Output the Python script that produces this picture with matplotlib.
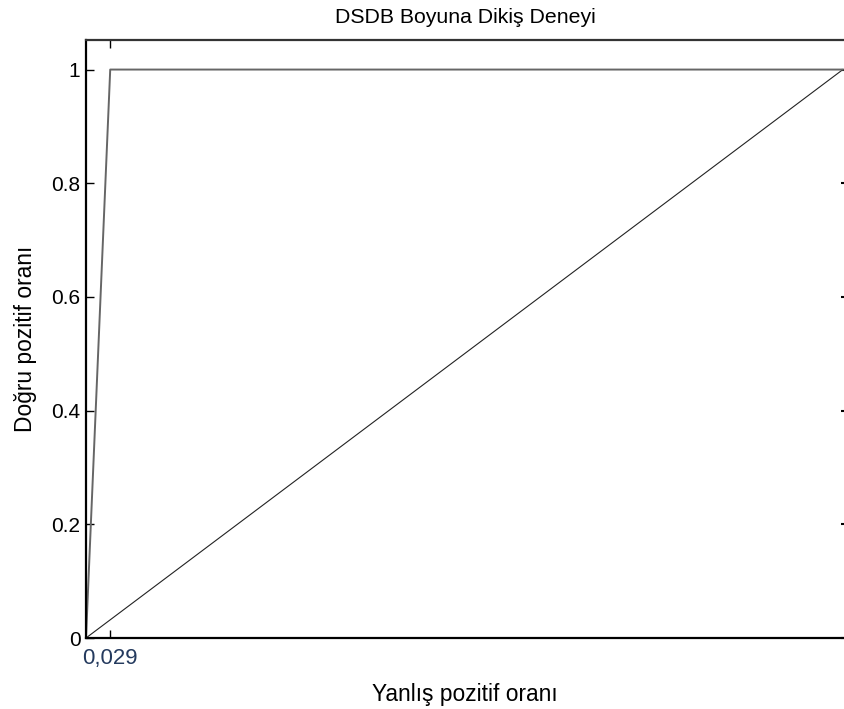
import matplotlib
matplotlib.use("Agg")
import matplotlib.pyplot as plt

# Data
fpr = [0.0, 0.032, 1.0]
tpr = [0.0, 1.0, 1.0]
diag_x = [0.0, 1.0]
diag_y = [0.0, 1.0]
yticks = [0, 0.2, 0.4, 0.6, 0.8, 1.0]
ytick_labels = ["0", "0.2", "0.4", "0.6", "0.8", "1"]
xticks = [0.032]
xtick_labels = ["0,029"]
title = "DSDB Boyuna Dikiş Deneyi"
xlabel = "Yanlış pozitif oranı"
ylabel = "Doğru pozitif oranı"

plt.rcParams['font.family'] = ['Liberation Sans', 'DejaVu Sans']

W, H = 845, 709
fig = plt.figure(figsize=(W / 100, H / 100), dpi=100)
ax = fig.add_axes([86 / W, (H - 638) / H, (844 - 86) / W, (638 - 40) / H])

ax.plot(diag_x, diag_y, color='#222222', lw=0.8)
ax.plot(fpr, tpr, color='#666666', lw=1.4)

ax.set_xlim(0, 1.0015)
ax.set_ylim(0, 1.052)

ax.set_yticks(yticks)
ax.set_yticklabels(ytick_labels, fontsize=15)
ax.set_xticks(xticks)
ax.set_xticklabels(xtick_labels, fontsize=16, color='#243a5e')

ax.tick_params(axis='y', direction='in', length=6, width=1, left=True, right=False, pad=4)
ax.tick_params(axis='x', direction='in', length=6, width=1, bottom=True, top=True, pad=7)

sec = ax.secondary_yaxis('right')
sec.set_yticks(yticks)
sec.set_yticklabels([])
sec.tick_params(direction='in', length=2.5, width=1.5)
sec.spines['right'].set_visible(False)

for s in ['left', 'bottom']:
    ax.spines[s].set_color('black')
    ax.spines[s].set_linewidth(1.6)
ax.spines['top'].set_color('#333333')
ax.spines['top'].set_linewidth(1.6)
ax.spines['right'].set_visible(False)

ax.set_title(title, fontsize=15.3, pad=12)
ax.set_xlabel(xlabel, fontsize=16.4, labelpad=10)
ax.set_ylabel(ylabel, fontsize=16.4, labelpad=10)

fig.savefig("out.png", dpi=100)
